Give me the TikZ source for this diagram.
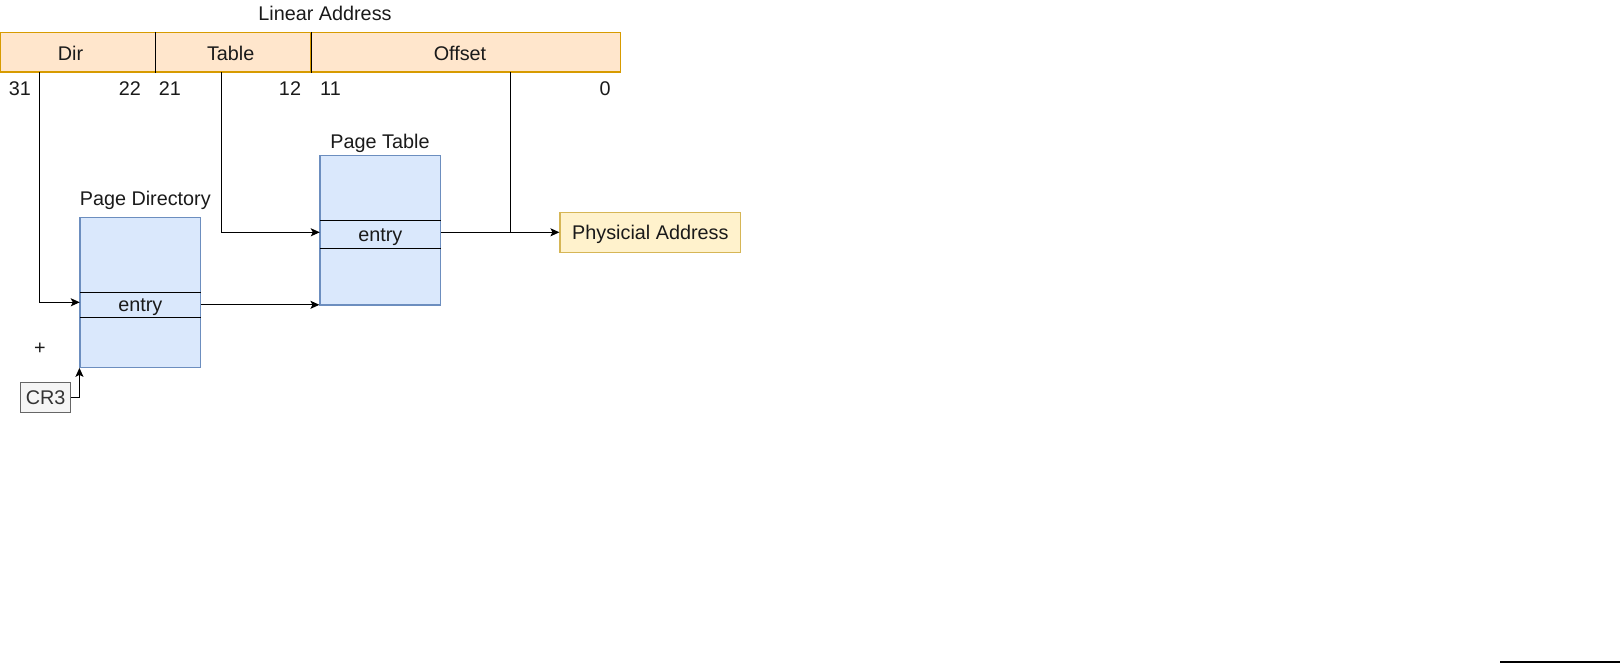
\documentclass[tikz,border=0pt]{standalone}
\usepackage{fontspec}
\setmainfont{Liberation Sans}
\usetikzlibrary{arrows.meta}
\definecolor{orfill}{HTML}{FFE6CC}
\definecolor{orline}{HTML}{D79B00}
\definecolor{blfill}{HTML}{DAE8FC}
\definecolor{blline}{HTML}{6C8EBF}
\definecolor{yefill}{HTML}{FFF2CC}
\definecolor{yeline}{HTML}{D6B656}
\definecolor{grfill}{HTML}{F5F5F5}
\definecolor{grline}{HTML}{666666}
\definecolor{grtext}{HTML}{333333}
\definecolor{txtcol}{HTML}{1A1A1A}
\begin{document}
\begin{tikzpicture}[x=1pt,y=-1pt,
  every node/.style={font=\fontsize{19.8}{23}\selectfont,text=txtcol},
  txt/.style={inner sep=0pt,text height=13.5pt,text depth=0pt},
  seg/.style={draw=orline,fill=orfill,line width=1.1pt,inner sep=0pt,minimum height=39.7pt},
  mem/.style={draw=blline,fill=blfill,line width=1.1pt,inner sep=0pt,minimum width=120.7pt,minimum height=150pt},
  entryrow/.style={txt,minimum width=120.7pt},
  conn/.style={line width=1.2pt},
  arr/.style={conn,-{Stealth[length=9pt,width=8pt,inset=2pt]}},
]
\useasboundingbox (0,0) rectangle (1622,664);

% linear address bar
\node[seg,minimum width=155.3pt] (dir) at (77.65,52.15) {};
\node[seg,minimum width=155.4pt] (tbl) at (233,52.15) {};
\node[seg,minimum width=310pt] (off) at (465.7,52.15) {};
\draw[conn] (dir.north east) -- (dir.south east);
\draw[conn] (tbl.north east) -- (tbl.south east);

\node[txt] (la) at (325,13.25) {Linear Address};
\node[txt] (dirl) at (70.5,53.25) {Dir};
\node[txt] (tbll) at (230.7,53.25) {Table};
\node[txt] (offl) at (460,53.25) {Offset};

\node[txt] (n31) at (20,88.25) {31};
\node[txt] (n22) at (130,88.25) {22};
\node[txt] (n21) at (170,88.25) {21};
\node[txt] (n12) at (290,88.25) {12};
\node[txt] (n11) at (330.5,88.25) {11};
\node[txt] (n0) at (605,88.25) {0};

% page directory
\node[txt] (pdl) at (145.3,198.25) {Page Directory};
\node[mem] (pd) at (140.35,292.3) {};
\node[entryrow,minimum height=25pt] (pde) at (140.35,304.8) {entry};
\draw[conn] (pde.north west) -- (pde.north east);
\draw[conn] (pde.south west) -- (pde.south east);

% page table
\node[txt] (ptl) at (380,141.25) {Page Table};
\node[mem,minimum height=149.7pt] (pt) at (380.35,230.15) {};
\node[entryrow,minimum height=28pt] (pte) at (380.35,234.3) {entry};
\draw[conn] (pte.north west) -- (pte.north east);
\draw[conn] (pte.south west) -- (pte.south east);

% physical address
\node[txt,draw=yeline,fill=yefill,line width=1.1pt,minimum width=180.7pt,minimum height=40pt] (pa) at (650.35,232.3) {Physicial Address};

% CR3
\node[txt,draw=grline,fill=grfill,text=grtext,line width=1.1pt,minimum width=50pt,minimum height=29.6pt] (cr3) at (45.7,397.5) {CR3};
\node[txt] (plus) at (40,348) {+};

% connectors
\coordinate (d0) at (39.7,72);
\coordinate (t0) at (221.3,72);
\coordinate (o0) at (510.3,72);
\draw[arr] (d0) |- ([yshift=2.5pt]pde.west);
\draw[arr] (t0) |- ([yshift=2pt]pte.west);
\draw[arr] ([yshift=2pt]pte.east) -- (pa.west);
\draw[conn] (o0) -- (o0 |- pa.west);
\draw[arr] (pde.east) -- (pde.east -| pt.south west);
\draw[arr] (cr3.east) -| (pd.south west);

% bottom-right line
\coordinate (bl0) at (1500,662);
\coordinate (bl1) at (1620,662);
\draw[line width=1.3pt] (bl0) -- (bl1);
\end{tikzpicture}
\end{document}
